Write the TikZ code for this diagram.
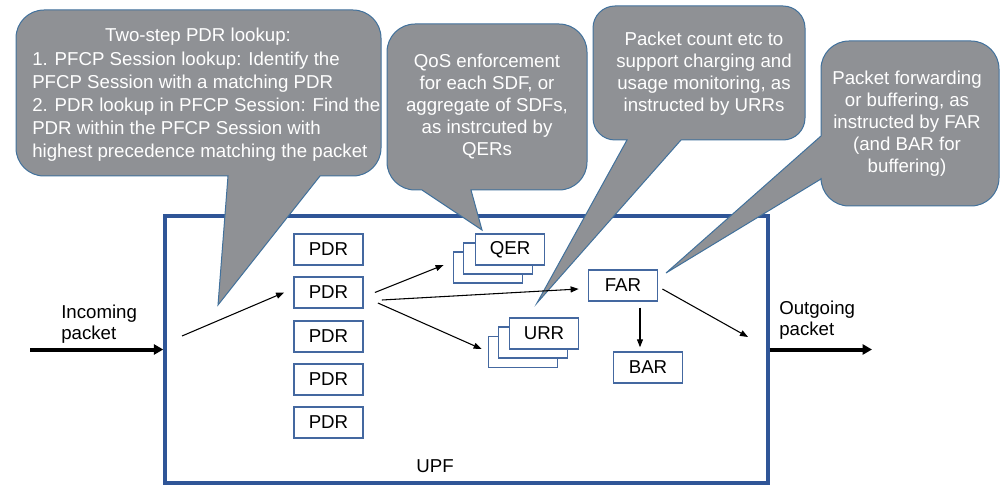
\documentclass[tikz,border=0pt]{standalone}
\usepackage{fontspec}
\setmainfont{Liberation Sans}
\usetikzlibrary{arrows.meta}
\definecolor{cgray}{RGB}{143,145,149}
\definecolor{cedge}{RGB}{65,113,156}
\definecolor{upfblue}{RGB}{47,85,151}
\definecolor{boxblue}{RGB}{68,104,160}
\begin{document}
\begin{tikzpicture}[x=0.75pt,y=-0.75pt,
  ctext/.style={text=white, font=\fontsize{14}{16.5}\selectfont, align=center, inner sep=0pt},
  callout/.style={fill=cgray, draw=cedge, line width=0.75pt},
  rbox/.style={draw=boxblue, fill=white, line width=1.1pt, minimum width=52pt, minimum height=23.25pt, inner sep=0pt, font=\fontsize{14}{16}\selectfont},
  thinarrow/.style={line width=0.8pt, -{Triangle[length=6pt,width=4.5pt]}},
  thickarrow/.style={line width=3pt, -{Triangle[length=7pt,width=7.5pt]}},
  plain/.style={font=\fontsize{14}{15.75}\selectfont, align=left, inner sep=0pt}
]
\useasboundingbox (0,0) rectangle (1007,499);

% UPF box
\node[draw=upfblue, line width=2.6pt, minimum width=452.25pt, minimum height=200.25pt, inner sep=0pt] (upf) at (466.5,349.5) {};
\node[font=\fontsize{14}{16}\selectfont, inner sep=0pt] (upflbl) at (435,466) {UPF};

% callouts
\path[callout] (228,176) -- (44,176) arc[start angle=270,end angle=180,radius=21pt]
  -- (16,38) arc[start angle=180,end angle=90,radius=21pt]
  -- (353,10) arc[start angle=90,end angle=0,radius=21pt]
  -- (381,148) arc[start angle=0,end angle=-90,radius=21pt]
  -- (320,176) -- (218,305) -- cycle;
\path[callout] (422,190) -- (415,190) arc[start angle=270,end angle=180,radius=21pt]
  -- (387,52) arc[start angle=180,end angle=90,radius=21pt]
  -- (559,24) arc[start angle=90,end angle=0,radius=21pt]
  -- (587,162) arc[start angle=0,end angle=-90,radius=21pt]
  -- (471,190) -- (482,230) -- cycle;
\path[callout] (627,140) -- (615,140) arc[start angle=270,end angle=180,radius=16.5pt]
  -- (593,28) arc[start angle=180,end angle=90,radius=16.5pt]
  -- (783,6) arc[start angle=90,end angle=0,radius=16.5pt]
  -- (805,118) arc[start angle=0,end angle=-90,radius=16.5pt]
  -- (681,140) -- (537,303) -- cycle;
\path[callout] (821,136) -- (821,69) arc[start angle=180,end angle=90,radius=21pt]
  -- (971,41) arc[start angle=90,end angle=0,radius=21pt]
  -- (999,178) arc[start angle=0,end angle=-90,radius=21pt]
  -- (849,206) arc[start angle=270,end angle=180,radius=21pt]
  -- (821,179) -- (666,273) -- cycle;

\node[ctext] (t1a) at (198,37) {Two-step PDR lookup:};
\node[ctext, align=left, anchor=west, font=\fontsize{14}{17.2}\selectfont] (t1b) at (32,106.5)
  {1. PFCP Session lookup: Identify the\\PFCP Session with a matching PDR\\2. PDR lookup in PFCP Session: Find the\\PDR within the PFCP Session with\\highest precedence matching the packet};
\node[ctext] (t2) at (487,107) {QoS enforcement\\for each SDF, or\\aggregate of SDFs,\\as instrcuted by\\QERs};
\node[ctext] (t3) at (704,73.5) {Packet count etc to\\support charging and\\usage monitoring, as\\instructed by URRs};
\node[ctext] (t4) at (907,124) {Packet forwarding\\or buffering, as\\instructed by FAR\\(and BAR for\\buffering)};

% outside labels and thick arrows
\node[plain, anchor=west] (inc) at (61,324) {Incoming\\packet};
\node[plain, anchor=west] (outg) at (779,320.5) {Outgoing\\packet};
\coordinate (inL) at (30,349.5);
\coordinate (outR) at (872,349.5);
\draw[thickarrow] (inL) -- (upf.west);
\draw[thickarrow] (upf.east) -- (outR);

% rule boxes
\node[rbox] (p1) at (328.5,249.5) {PDR};
\node[rbox] (p2) at (328.5,292.5) {PDR};
\node[rbox] (p3) at (328.5,336.5) {PDR};
\node[rbox] (p4) at (328.5,379.5) {PDR};
\node[rbox] (p5) at (328.5,422.5) {PDR};
\node[rbox] (q3) at (488,267.5) {};
\node[rbox] (q2) at (498,258.5) {};
\node[rbox] (q1) at (510,249.5) {QER};
\node[rbox] (u3) at (523,352) {};
\node[rbox] (u2) at (533,342.5) {};
\node[rbox] (u1) at (544,333.5) {URR};
\node[rbox] (far) at (623,285.5) {FAR};
\node[rbox] (bar) at (648,367.5) {BAR};

% thin arrows
\coordinate (inpt) at (182,336);
\coordinate (outpt) at (748,337);
\draw[thinarrow] (inpt) -- ([shift={(-9,0)}]p2.west);
\draw[thinarrow] ([shift={(11,0)}]p2.east) -- ([shift={(-9,-2.5)}]q3.west);
\draw[thinarrow] ([shift={(18,7.5)}]p2.east) -- ([shift={(-9,3.5)}]far.west);
\draw[thinarrow] ([shift={(14,10.5)}]p2.east) -- ([shift={(-6,-3)}]u3.west);
\draw[thinarrow] ([shift={(17,6)}]far.south) -- ([shift={(-8,-4)}]bar.north);
\draw[thinarrow] ([shift={(4,3.5)}]far.east) -- (outpt);
\end{tikzpicture}
\end{document}
